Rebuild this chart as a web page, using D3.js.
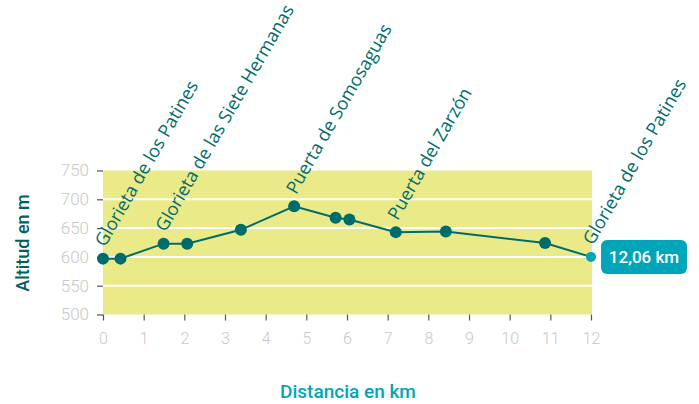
<!DOCTYPE html>
<html>
<head>
  <meta charset="utf-8">
  <script src="https://d3js.org/d3.v7.min.js"></script>
  <style>
    body { margin: 0; background: #fff; }
    svg text { font-family: "Open Sans", sans-serif; }
  </style>
</head>
<body>
  <svg id="chart" width="699" height="404"></svg>
  <script>
    // route profile: distance (km) and altitude (m)
    var distances = [0, 0.43, 1.49, 2.07, 3.39, 4.70, 5.72, 6.06, 7.20, 8.43, 10.87, 12];
    var altitudes = [597, 597, 623, 623, 647, 688, 668, 665, 643, 644, 624, 600];
    // place names, attached to a point by index
    var placeIdx = [0, 2, 5, 8, 11];
    var placeNames = ["Glorieta de los Patines", "Glorieta de las Siete Hermanas",
                      "Puerta de Somosaguas", "Puerta del Zarzón", "Glorieta de los Patines"];
    var xTicks = [0, 1, 2, 3, 4, 5, 6, 7, 8, 9, 10, 11, 12];
    var yTicks = [500, 550, 600, 650, 700, 750];
    var totalLabel = "12,06 km";

    var svg = d3.select("#chart");

    var x = d3.scaleLinear().domain([0, 12]).range([103, 591]);
    var y = d3.scaleLinear().domain([500, 750]).range([314.5, 170.5]);

    // yellow plot band
    svg.append("rect")
      .attr("x", x(0)).attr("y", y(750))
      .attr("width", x(12) - x(0) + 1).attr("height", y(500) - y(750))
      .style("fill", "#ebea89");

    // white gridlines
    svg.selectAll("line.grid")
      .data(yTicks.filter(function(d){ return d > 500 && d < 750; }))
      .enter()
      .append("line")
      .attr("class", "grid")
      .attr("x1", x(0)).attr("x2", x(12) + 1)
      .attr("y1", function(d){ return y(d); })
      .attr("y2", function(d){ return y(d); })
      .style("stroke", "#fff")
      .style("stroke-width", 2);

    // y axis
    var yAxis = svg.append("g")
      .attr("transform", "translate(" + x(0) + ",0)")
      .call(d3.axisLeft(y).tickValues(yTicks).tickSize(6).tickPadding(8));
    yAxis.select(".domain").remove();
    yAxis.selectAll(".tick line").style("stroke", "#555").style("stroke-width", 1.2);
    yAxis.selectAll(".tick text")
      .style("fill", "#c8c8c8")
      .style("font-family", "Roboto, sans-serif")
      .style("font-weight", 300)
      .style("font-size", "17px");

    // x axis
    var xAxis = svg.append("g")
      .attr("transform", "translate(0," + y(500) + ")")
      .call(d3.axisBottom(x).tickValues(xTicks).tickSize(6).tickPadding(12));
    xAxis.select(".domain").remove();
    xAxis.selectAll(".tick line").style("stroke", "#555").style("stroke-width", 1.2);
    xAxis.selectAll(".tick text")
      .style("fill", "#c8c8c8")
      .style("font-family", "Roboto, sans-serif")
      .style("font-weight", 300)
      .style("font-size", "16px");

    var pts = distances.map(function(d, i){ return { km: d, alt: altitudes[i], i: i }; });

    // profile line
    svg.append("path")
      .datum(pts)
      .attr("d", d3.line()
        .x(function(d){ return x(d.km); })
        .y(function(d){ return y(d.alt); }))
      .style("fill", "none")
      .style("stroke", "#006b6b")
      .style("stroke-width", 2);

    // dots, last one lighter
    svg.selectAll("circle")
      .data(pts)
      .enter()
      .append("circle")
      .attr("cx", function(d){ return x(d.km); })
      .attr("cy", function(d){ return y(d.alt); })
      .attr("r", function(d){ return d.i == pts.length - 1 ? 5 : 6; })
      .style("fill", function(d){ return d.i == pts.length - 1 ? "#00a5b9" : "#006b6b"; });

    // rotated place names
    svg.selectAll("text.place")
      .data(placeIdx)
      .enter()
      .append("text")
      .attr("class", "place")
      .attr("transform", function(d){
        return "translate(" + (x(distances[d]) + 2) + "," + (y(altitudes[d]) - 11) + ") rotate(-60)";
      })
      .style("fill", "#006b6b")
      .style("font-size", "18px")
      .text(function(d, i){ return placeNames[i]; });

    // total distance badge
    var bx = x(12) + 10, by = y(600) - 17;
    svg.append("rect")
      .attr("x", bx).attr("y", by)
      .attr("width", 86).attr("height", 34)
      .attr("rx", 6)
      .style("fill", "#00a5b9");
    svg.append("text")
      .attr("x", bx + 43).attr("y", by + 23)
      .attr("text-anchor", "middle")
      .style("fill", "#fff")
      .style("font-family", "Roboto, sans-serif")
      .style("font-weight", 500)
      .style("font-size", "17px")
      .text(totalLabel);

    // axis titles
    svg.append("text")
      .attr("transform", "translate(29,243) rotate(-90)")
      .attr("text-anchor", "middle")
      .style("fill", "#005f5f")
      .style("font-family", "Roboto, sans-serif")
      .style("font-weight", 500)
      .style("font-size", "18px")
      .text("Altitud en m");

    svg.append("text")
      .attr("x", 348).attr("y", 398)
      .attr("text-anchor", "middle")
      .style("fill", "#00a5b9")
      .style("font-family", "Roboto, sans-serif")
      .style("font-weight", 500)
      .style("font-size", "19px")
      .text("Distancia en km");
  </script>
</body>
</html>
